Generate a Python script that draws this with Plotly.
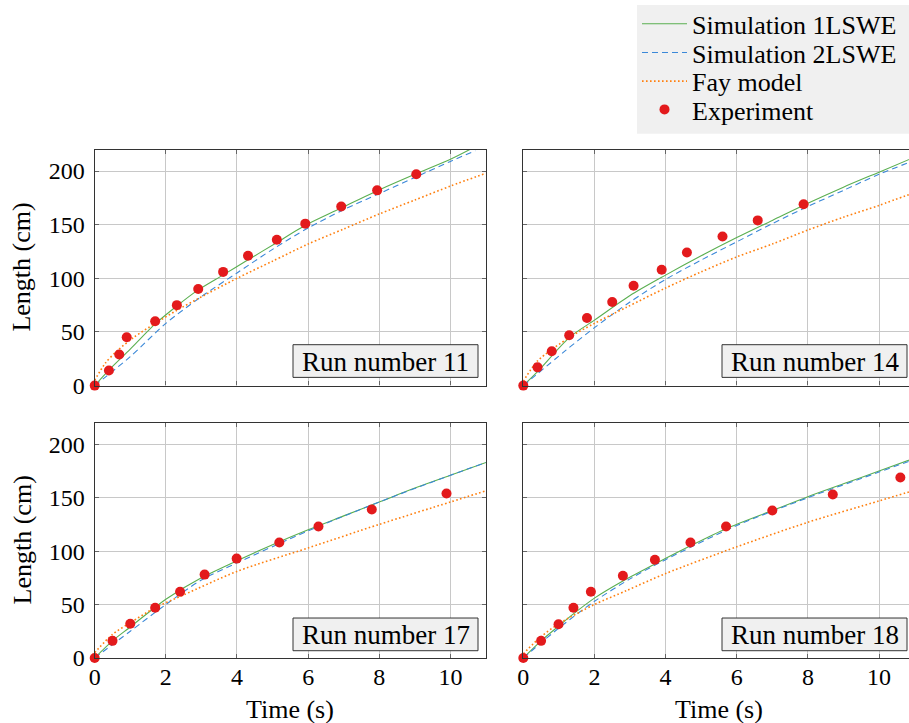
import plotly.graph_objects as go

# ---------------- data ----------------
# Run 11
t_exp_11 = [0, 0.40, 0.69, 0.90, 1.70, 2.31, 2.91, 3.61, 4.31, 5.12, 5.92, 6.93, 7.94, 9.04]
L_exp_11 = [0, 14, 29, 45, 60, 75, 90, 106, 121, 136, 151, 167, 182, 197]
t_s1_11 = [0, 0.4, 1, 1.7, 2.3, 2.9, 3.6, 4.3, 5.1, 5.9, 6.9, 7.9, 9, 10, 10.6]
L_s1_11 = [0, 14.5, 34, 57.5, 74, 89, 103, 117, 133, 149, 165, 181, 197, 211, 221]
t_s2_11 = [0, 1, 2, 3, 4, 5, 6, 7, 8, 9, 10, 10.7]
L_s2_11 = [0, 27, 58, 83, 105, 127, 147, 164, 179, 194, 209, 219]
t_fay_11 = [0, 0.3, 0.65, 1.1, 1.7, 2.3, 2.9, 4, 5, 6, 7, 8, 9, 10, 11]
L_fay_11 = [5, 21, 33, 45, 58, 70, 81, 100, 116, 132, 146, 160, 173, 186, 198]

# Run 14
t_exp_14 = [0, 0.40, 0.80, 1.29, 1.79, 2.50, 3.10, 3.89, 4.60, 5.60, 6.59, 7.88]
L_exp_14 = [0, 17, 32, 47, 63, 78, 93, 108, 124, 139, 154, 169]
t_s1_14 = [0, 0.4, 1.3, 2, 3, 4, 5, 6, 7, 8, 9, 10, 11]
L_s1_14 = [0, 13, 45, 61, 84, 103, 121, 138, 154, 170, 185, 199, 213]
t_s2_14 = [0, 1.2, 2, 3, 4, 5, 6, 7, 8, 9, 10, 11]
L_s2_14 = [0, 33, 54, 78, 99, 117, 134, 151, 167, 182, 197, 210]
t_fay_14 = [0, 0.4, 1.3, 2, 2.9, 4, 5, 6, 7, 8, 9, 10, 11]
L_fay_14 = [4, 23, 45, 58, 73, 91, 106, 120, 132, 145, 157, 168, 180]

# Run 17
t_exp_17 = [0, 0.50, 1.00, 1.70, 2.40, 3.09, 3.99, 5.19, 6.29, 7.79, 9.89]
L_exp_17 = [0, 16, 32, 47, 62, 78, 93, 108, 123, 139, 154]
t_s1_17 = [0, 0.5, 1, 1.7, 2, 3, 4, 5, 6, 7, 8, 9, 10, 11]
L_s1_17 = [0, 16, 29, 47.5, 55, 75, 91, 106, 120, 133, 146, 159, 171, 183]
t_s2_17 = [0, 1, 2, 3, 4, 6, 8, 10, 11]
L_s2_17 = [0, 25, 50, 73, 89, 119, 146, 171, 183]
t_fay_17 = [0, 0.5, 1, 1.7, 2.5, 4, 6, 8, 10, 11]
L_fay_17 = [5, 22, 33, 47, 59, 81, 103, 125, 146, 156.5]

# Run 18
t_exp_18 = [0, 0.50, 0.99, 1.41, 1.90, 2.80, 3.70, 4.70, 5.70, 7.00, 8.70, 10.60]
L_exp_18 = [0, 16, 31.5, 47, 62, 77, 92, 108, 123, 138, 153, 169]
t_s1_18 = [0, 0.5, 1, 1.4, 2, 2.8, 3.7, 4.7, 5.7, 7, 8, 9, 10, 11]
L_s1_18 = [0, 16, 30, 41, 56, 72, 88, 105, 121, 138, 151, 163, 175, 187]
t_s2_18 = [0, 1, 2, 3, 4, 6, 8, 10, 11]
L_s2_18 = [0, 28, 53, 74, 92, 124, 150, 174, 186]
t_fay_18 = [0, 0.5, 1, 2, 2.9, 4, 6, 8, 10, 11]
L_fay_18 = [4, 20, 32, 50, 63, 79, 104, 127, 147, 157]

run_labels = ["Run number 11", "Run number 14", "Run number 17", "Run number 18"]
series_names = ["Simulation 1LSWE", "Simulation 2LSWE", "Fay model", "Experiment"]
x_ticks = [0, 2, 4, 6, 8, 10]
y_ticks = [0, 50, 100, 150, 200]

runs = [
    (t_s1_11, L_s1_11, t_s2_11, L_s2_11, t_fay_11, L_fay_11, t_exp_11, L_exp_11),
    (t_s1_14, L_s1_14, t_s2_14, L_s2_14, t_fay_14, L_fay_14, t_exp_14, L_exp_14),
    (t_s1_17, L_s1_17, t_s2_17, L_s2_17, t_fay_17, L_fay_17, t_exp_17, L_exp_17),
    (t_s1_18, L_s1_18, t_s2_18, L_s2_18, t_fay_18, L_fay_18, t_exp_18, L_exp_18),
]

# ---------------- layout geometry ----------------
W, H = 909, 723
FONT = "Liberation Serif"
GREEN = "#5aaf50"
BLUE = "#3a88d8"
ORANGE = "#ff7f0e"
RED = "#e31a1c"
GRID = "#c8c8c8"
FRAME = "#333333"
BOXBG = "#f0f0f0"

def px(x):  # page pixel -> paper
    return x / W

def py(y):
    return 1 - y / H

x_dom_left = [px(94.7), px(486)]
x_dom_right = [px(523.3), 1.0]
y_dom_top = [py(382.3), py(144)]
y_dom_bot = [py(657.3), py(420)]
x_range_left = [0, 11]
x_range_right = [0, (909 - 523.3) / ((486 - 94.7) / 11)]

fig = go.Figure()

panels = [
    ("x", "y", x_dom_left, y_dom_top, x_range_left, True, False),
    ("x2", "y2", x_dom_right, y_dom_top, x_range_right, False, False),
    ("x3", "y3", x_dom_left, y_dom_bot, x_range_left, True, True),
    ("x4", "y4", x_dom_right, y_dom_bot, x_range_right, False, True),
]
legend_ids = ["legend", "legend2", "legend3", "legend4"]

for i, (run, panel) in enumerate(zip(runs, panels)):
    s1t, s1L, s2t, s2L, ft, fL, et, eL = run
    xa, ya = panel[0], panel[1]
    show = i == 0
    fig.add_trace(go.Scatter(x=s1t, y=s1L, mode="lines", name=series_names[0],
                             line=dict(color=GREEN, width=1.1, shape="spline", smoothing=0.8),
                             xaxis=xa, yaxis=ya, showlegend=show, legend=legend_ids[0]))
    fig.add_trace(go.Scatter(x=s2t, y=s2L, mode="lines", name=series_names[1],
                             line=dict(color=BLUE, width=1.1, dash="6px,4px", shape="spline", smoothing=0.8),
                             xaxis=xa, yaxis=ya, showlegend=show, legend=legend_ids[1]))
    fig.add_trace(go.Scatter(x=ft, y=fL, mode="lines", name=series_names[2],
                             line=dict(color=ORANGE, width=1.6, dash="1.6px,2.4px", shape="spline", smoothing=0.8),
                             xaxis=xa, yaxis=ya, showlegend=show, legend=legend_ids[2]))
    fig.add_trace(go.Scatter(x=et, y=eL, mode="markers", name=series_names[3],
                             marker=dict(color=RED, size=10, line=dict(width=0)),
                             cliponaxis=False,
                             xaxis=xa, yaxis=ya, showlegend=show, legend=legend_ids[3]))

layout = {}
for (xa, ya, xd, yd, xr, left, bottom) in panels:
    xkey = "xaxis" + xa[1:]
    ykey = "yaxis" + ya[1:]
    layout[xkey] = dict(domain=xd, range=xr, anchor=ya, tickvals=x_ticks,
                        showticklabels=bottom, showgrid=True, gridcolor=GRID, gridwidth=1,
                        zeroline=False, showline=True, linecolor=FRAME, linewidth=1.2,
                        mirror="ticks", ticks="inside", ticklen=4, tickcolor="#666666",
                        tickfont=dict(family=FONT, size=24, color="black"),
                        ticklabelstandoff=-3, automargin=False, fixedrange=True)
    layout[ykey] = dict(domain=yd, range=[0, 220], anchor=xa, tickvals=y_ticks,
                        showticklabels=left, showgrid=True, gridcolor=GRID, gridwidth=1,
                        zeroline=False, showline=True, linecolor=FRAME, linewidth=1.2,
                        mirror="ticks" if left else False, ticks="inside", ticklen=4,
                        tickcolor="#666666",
                        tickfont=dict(family=FONT, size=24, color="black"),
                        ticklabelstandoff=4, automargin=False, fixedrange=True)

fig.update_layout(**layout)

shapes = []
annotations = []
# run labels in framed boxes
box_pos = [(293, 341, 478, 374), (722, 341, 907, 374), (293, 617, 478, 650), (722, 617, 907, 650)]
for lab, (x0, y0, x1, y1) in zip(run_labels, box_pos):
    shapes.append(dict(type="rect", xref="paper", yref="paper",
                       x0=px(x0), x1=px(x1), y0=py(y1), y1=py(y0),
                       fillcolor=BOXBG, line=dict(color=FRAME, width=1), layer="above"))
    annotations.append(dict(text=lab, xref="paper", yref="paper",
                            x=px((x0 + x1) / 2), y=py((y0 + y1) / 2 + 1),
                            xanchor="center", yanchor="middle", showarrow=False,
                            font=dict(family=FONT, size=27, color="black")))
# axis titles
for yc in [(144 + 382.3) / 2, (420 + 657.3) / 2]:
    annotations.append(dict(text="Length (cm)", xref="paper", yref="paper", x=px(22), y=py(yc),
                            xanchor="center", yanchor="middle", textangle=-90, showarrow=False,
                            font=dict(family=FONT, size=26, color="black")))
for xc in [(94.7 + 486) / 2, 523.3 + (486 - 94.7) / 2]:
    annotations.append(dict(text="Time (s)", xref="paper", yref="paper", x=px(xc), y=py(709),
                            xanchor="center", yanchor="middle", showarrow=False,
                            font=dict(family=FONT, size=26, color="black")))

# legend background
shapes.append(dict(type="rect", xref="paper", yref="paper",
                   x0=px(637), x1=px(915), y0=py(128), y1=py(-2),
                   fillcolor=BOXBG, line=dict(width=0), layer="above"))

legend_rows = [17, 46, 75, 103.5]
legend_cfg = {}
for lid, yr in zip(legend_ids, legend_rows):
    legend_cfg[lid] = dict(x=px(637), y=py(yr), xanchor="left", yanchor="middle",
                           bgcolor="rgba(0,0,0,0)", borderwidth=0,
                           font=dict(family=FONT, size=26, color="black"),
                           itemwidth=45)

fig.update_layout(
    width=W, height=H,
    margin=dict(l=0, r=0, t=0, b=0),
    paper_bgcolor="white", plot_bgcolor="white",
    font=dict(family=FONT, size=24, color="black"),
    annotations=annotations,
    shapes=shapes,
    showlegend=True,
    **legend_cfg,
)

fig.write_html("out.html", config={"displayModeBar": False},
               post_script="document.body.style.margin='0';")
